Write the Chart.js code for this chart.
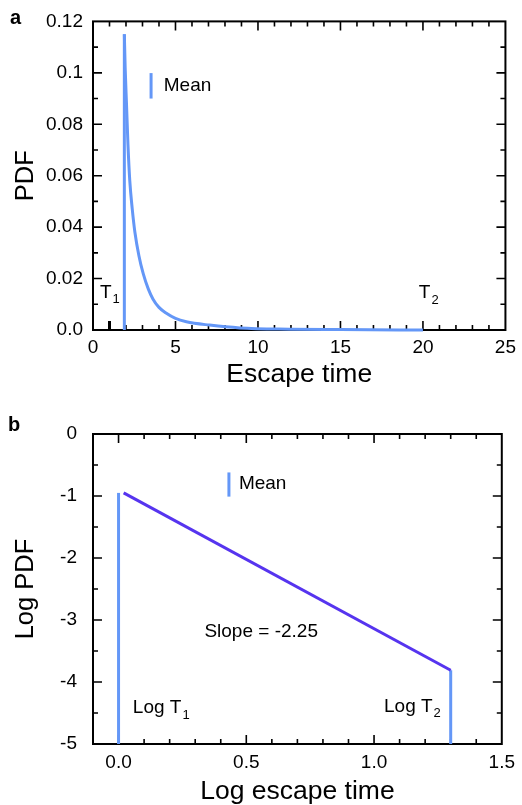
<!DOCTYPE html>
<html><head><meta charset="utf-8">
<script src="https://cdn.jsdelivr.net/npm/chart.js@4.4.1/dist/chart.umd.min.js"></script>
<style>
html,body{margin:0;padding:0;background:#fff;overflow:hidden;width:522px;height:805px}
#ca{position:absolute;left:0;top:0}
#cb{position:absolute;left:0;top:400px}
</style></head><body>
<canvas id="ca" width="522" height="400"></canvas>
<canvas id="cb" width="522" height="420"></canvas>
<script>
// ---------- Panel a data ----------
const aXTicks = [0, 5, 10, 15, 20, 25];
const aXTickLabels = ['0', '5', '10', '15', '20', '25'];
const aYTicks = [0, 0.02, 0.04, 0.06, 0.08, 0.1, 0.12];
const aYTickLabels = ['0.0', '0.02', '0.04', '0.06', '0.08', '0.1', '0.12'];
const aCurveX = [1.9, 1.95, 2.03, 2.12, 2.23, 2.38, 2.54, 2.78, 3.04, 3.35, 3.64, 4.0, 4.45, 5.0, 5.66, 7.07, 8.9, 11.9, 15.0, 20.0];
const aCurveY = [0.115, 0.102, 0.088, 0.072, 0.058, 0.047, 0.038, 0.029, 0.022, 0.016, 0.012, 0.0088, 0.0065, 0.0045, 0.0032, 0.0019, 0.0008, 0.0003, 0.00015, 0.0];
const aMeanX = [1.9, 1.9];
const aMeanY = [0, 0.115];
const aT1MarkX = [1, 1];
const aT1MarkY = [0, 0.0035];

// ---------- Panel b data ----------
const bXTicks = [0, 0.5, 1.0, 1.5];
const bXTickLabels = ['0.0', '0.5', '1.0', '1.5'];
const bYTicks = [0, -1, -2, -3, -4, -5];
const bYTickLabels = ['0', '-1', '-2', '-3', '-4', '-5'];
const bSlopeX = [0.02, 1.30];
const bSlopeY = [-0.95, -3.81];
const bT1X = [0, 0];
const bT1Y = [-5, -0.95];
const bT2X = [1.30, 1.30];
const bT2Y = [-3.81, -5];

const F = "'Liberation Sans', Arial, Helvetica, sans-serif";
const BLUE = '#6497f7';
const PURPLE = '#5634ef';
const zip = (xs, ys) => xs.map((x, i) => ({x: x, y: ys[i]}));

function framePlugin(cfg) {
  return {
    id: 'frame',
    beforeDatasetsDraw(chart) {
      const ctx = chart.ctx;
      const {left, right, top, bottom} = chart.chartArea;
      const xs = chart.scales.x, ys = chart.scales.y;
      ctx.save();
      ctx.strokeStyle = '#000';
      ctx.lineWidth = 2;
      ctx.strokeRect(left, top, right - left, bottom - top);
      ctx.lineWidth = 1.6;
      ctx.beginPath();
      const eps = 1e-9;
      for (let v = cfg.xmin; v <= cfg.xmax + eps; v += cfg.xminor) {
        const p = xs.getPixelForValue(v);
        if (p <= left + 1 || p >= right - 1) continue;
        const isMajor = Math.abs(v / cfg.xmajor - Math.round(v / cfg.xmajor)) < 1e-6;
        const L = isMajor ? 9 : 5;
        ctx.moveTo(p, bottom); ctx.lineTo(p, bottom - L);
        ctx.moveTo(p, top); ctx.lineTo(p, top + L);
      }
      for (let v = cfg.ymin; v <= cfg.ymax + eps; v += cfg.yminor) {
        const p = ys.getPixelForValue(v);
        if (p <= top + 1 || p >= bottom - 1) continue;
        const isMajor = Math.abs(v / cfg.ymajor - Math.round(v / cfg.ymajor)) < 1e-6;
        const L = isMajor ? 9 : 5;
        ctx.moveTo(left, p); ctx.lineTo(left + L, p);
        ctx.moveTo(right, p); ctx.lineTo(right - L, p);
      }
      ctx.stroke();
      ctx.restore();
    }
  };
}

function notesPlugin(notes, marks, panelLabel) {
  return {
    id: 'notes',
    afterDraw(chart) {
      const ctx = chart.ctx;
      const xs = chart.scales.x, ys = chart.scales.y;
      ctx.save();
      ctx.fillStyle = '#000';
      ctx.textBaseline = 'middle';
      ctx.textAlign = 'left';
      notes.forEach(n => {
        const px = xs.getPixelForValue(n.x), py = ys.getPixelForValue(n.y);
        ctx.font = '19px ' + F;
        ctx.fillText(n.text, px, py);
        if (n.sub) {
          const w = ctx.measureText(n.text).width;
          ctx.font = '13px ' + F;
          ctx.fillText(n.sub, px + w + 1, py + 7);
        }
      });
      marks.forEach(m => {
        ctx.strokeStyle = m.color;
        ctx.lineWidth = 3;
        ctx.beginPath();
        ctx.moveTo(xs.getPixelForValue(m.x), ys.getPixelForValue(m.y1));
        ctx.lineTo(xs.getPixelForValue(m.x), ys.getPixelForValue(m.y2));
        ctx.stroke();
      });
      ctx.font = 'bold 20px ' + F;
      ctx.fillText(panelLabel.text, panelLabel.px, panelLabel.py);
      ctx.restore();
    }
  };
}

function lineDs(data, color, extra) {
  return Object.assign({data: data, borderColor: color, borderWidth: 3, pointRadius: 0, fill: false, clip: false}, extra || {});
}

// ---------- Panel a ----------
new Chart(document.getElementById('ca'), {
  type: 'line',
  data: {datasets: [
    lineDs(zip(aCurveX, aCurveY), BLUE, {cubicInterpolationMode: 'monotone'}),
    lineDs(zip(aMeanX, aMeanY), BLUE),
    lineDs(zip(aT1MarkX, aT1MarkY), '#000')
  ]},
  options: {
    responsive: false, animation: false, devicePixelRatio: 1,
    layout: {padding: {top: 21, right: 15, left: 0, bottom: 9}},
    plugins: {legend: {display: false}, tooltip: {enabled: false}},
    scales: {
      x: {
        type: 'linear', min: 0, max: 25,
        grid: {display: false, drawTicks: false}, border: {display: false},
        afterBuildTicks: s => { s.ticks = aXTicks.map(v => ({value: v})); },
        ticks: {font: {family: F, size: 19}, color: '#000', padding: 6, maxRotation: 0, autoSkip: false,
          callback: (v, i) => aXTickLabels[i]},
        title: {display: true, text: 'Escape time', font: {family: F, size: 26.5}, color: '#000', padding: 0},
        afterFit: s => { s.height = 61; }
      },
      y: {
        type: 'linear', min: 0, max: 0.12,
        grid: {display: false, drawTicks: false}, border: {display: false},
        afterBuildTicks: s => { s.ticks = aYTicks.map(v => ({value: v})); },
        ticks: {font: {family: F, size: 19}, color: '#000', padding: 10, autoSkip: false,
          callback: (v, i) => aYTickLabels[i]},
        title: {display: true, text: 'PDF', font: {family: F, size: 25.5}, color: '#000', padding: {top: 11, bottom: 0}},
        afterFit: s => { s.width = 93; }
      }
    }
  },
  plugins: [
    framePlugin({xmin: 0, xmax: 25, xminor: 1, xmajor: 5, ymin: 0, ymax: 0.12, yminor: 0.01, ymajor: 0.02}),
    notesPlugin(
      [{text: 'Mean', x: 4.29, y: 0.0948}, {text: 'T', sub: '1', x: 0.42, y: 0.0145}, {text: 'T', sub: '2', x: 19.75, y: 0.0143}],
      [{x: 3.52, y1: 0.09, y2: 0.0999, color: BLUE}],
      {text: 'a', px: 10, py: 18})
  ]
});

// ---------- Panel b ----------
new Chart(document.getElementById('cb'), {
  type: 'line',
  data: {datasets: [
    lineDs(zip(bSlopeX, bSlopeY), PURPLE),
    lineDs(zip(bT1X, bT1Y), BLUE),
    lineDs(zip(bT2X, bT2Y), BLUE)
  ]},
  options: {
    responsive: false, animation: false, devicePixelRatio: 1,
    layout: {padding: {top: 34, right: 15, left: 0, bottom: 12}},
    plugins: {legend: {display: false}, tooltip: {enabled: false}},
    scales: {
      x: {
        type: 'linear', min: -0.1, max: 1.5,
        grid: {display: false, drawTicks: false}, border: {display: false},
        afterBuildTicks: s => { s.ticks = bXTicks.map(v => ({value: v})); },
        ticks: {font: {family: F, size: 19}, color: '#000', padding: 7, maxRotation: 0, autoSkip: false,
          callback: (v, i) => bXTickLabels[i]},
        title: {display: true, text: 'Log escape time', font: {family: F, size: 26.5}, color: '#000', padding: 0},
        afterFit: s => { s.height = 64; }
      },
      y: {
        type: 'linear', min: -5, max: 0,
        grid: {display: false, drawTicks: false}, border: {display: false},
        afterBuildTicks: s => { s.ticks = bYTicks.map(v => ({value: v})); },
        ticks: {font: {family: F, size: 19}, color: '#000', padding: 16, autoSkip: false,
          callback: (v, i) => bYTickLabels[i]},
        title: {display: true, text: 'Log PDF', font: {family: F, size: 25.5}, color: '#000', padding: {top: 11, bottom: 0}},
        afterFit: s => { s.width = 93; }
      }
    }
  },
  plugins: [
    framePlugin({xmin: -0.1, xmax: 1.5, xminor: 0.1, xmajor: 0.5, ymin: -5, ymax: 0, yminor: 0.5, ymajor: 1}),
    notesPlugin(
      [{text: 'Mean', x: 0.471, y: -0.806}, {text: 'Slope = -2.25', x: 0.336, y: -3.19},
       {text: 'Log T', sub: '1', x: 0.056, y: -4.42}, {text: 'Log T', sub: '2', x: 1.039, y: -4.40}],
      [{x: 0.432, y1: -0.62, y2: -1.01, color: BLUE}],
      {text: 'b', px: 8, py: 25})
  ]
});
</script>
</body></html>
